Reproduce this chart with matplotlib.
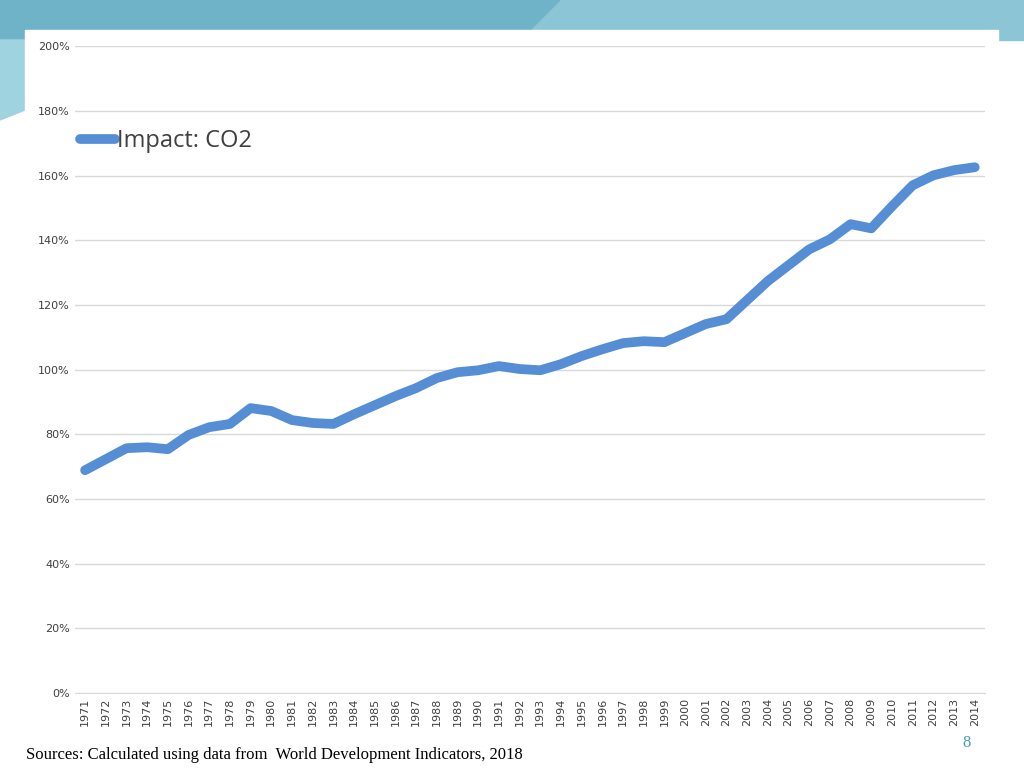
import matplotlib
matplotlib.use("Agg")
import matplotlib.pyplot as plt
from matplotlib.patches import Rectangle, Polygon
from matplotlib.ticker import FuncFormatter

years = [str(y) for y in range(1971, 2015)]
co2 = [68.9, 72.3, 75.7, 76.0, 75.4, 79.8, 82.2, 83.2, 88.1, 87.2, 84.4, 83.5, 83.2, 86.2,
       89.0, 91.8, 94.3, 97.4, 99.2, 99.8, 101.1, 100.2, 99.8, 101.7, 104.2, 106.3, 108.2,
       108.8, 108.5, 111.3, 114.1, 115.6, 121.5, 127.4, 132.3, 137.2, 140.3, 145.0, 143.7,
       150.5, 157.0, 160.1, 161.7, 162.6]

fig = plt.figure(figsize=(10.24, 7.68), dpi=100)
bg = fig.add_axes([0, 0, 1, 1]); bg.set_xlim(0, 1024); bg.set_ylim(768, 0); bg.axis("off")
bg.add_patch(Polygon([[0, 0], [1024, 0], [1024, 40], [0, 40]], color="#8cc6d6", zorder=0))
bg.add_patch(Polygon([[0, 0], [560, 0], [520, 40], [0, 40]], color="#6fb3c9", zorder=0))
bg.add_patch(Polygon([[0, 40], [25, 40], [25, 110], [0, 120]], color="#9fd3e0", zorder=0))
bg.add_patch(Rectangle((25, 30), 973, 710, color="white", zorder=1))

ax = fig.add_axes([0.073, 0.0977, 0.889, 0.842])
ax.plot(range(len(years)), co2, color="#558ed5", lw=7, solid_capstyle="round",
        solid_joinstyle="round", label="Impact: CO2")
ax.set_xlim(-0.5, len(years) - 0.5)
ax.set_ylim(0, 200)
ax.set_yticks(range(0, 201, 20))
ax.yaxis.set_major_formatter(FuncFormatter(lambda v, p: f"{int(v)}%"))
ax.set_xticks(range(len(years)))
ax.set_xticklabels(years, rotation=90, fontsize=8, color="#404040")
ax.tick_params(axis="y", labelsize=8, colors="#404040", length=0)
ax.tick_params(axis="x", length=0)
ax.grid(axis="y", color="#d9d9d9", lw=1)
for s in ["top", "right", "left"]:
    ax.spines[s].set_visible(False)
ax.spines["bottom"].set_color("#d9d9d9")
ax.set_axisbelow(True)
leg = ax.legend(loc="upper left", bbox_to_anchor=(-0.018, 0.905), frameon=False,
                handlelength=1.5, handletextpad=0.1,
                prop={"family": "Open Sans", "size": 17})
for t in leg.get_texts():
    t.set_color("#404040")

fig.text(0.025, 0.012, "Sources: Calculated using data from  World Development Indicators, 2018",
         family="Liberation Serif", fontsize=12)
fig.text(0.94, 0.027, "8", family="Liberation Serif", fontsize=12, color="#4a9bb5")
fig.savefig("out.png", dpi=100)
